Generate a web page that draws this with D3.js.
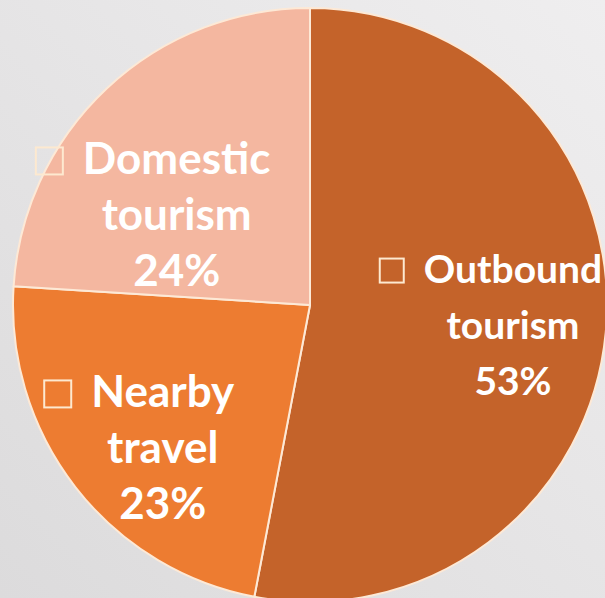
<!DOCTYPE html>
<html>
<head>
<meta charset="utf-8">
<script src="https://cdn.jsdelivr.net/npm/d3@7"></script>
<style>
  html, body { margin: 0; padding: 0; overflow: hidden; }
  svg { display: block; }
</style>
</head>
<body>
<svg id="chart" width="605" height="598"></svg>
<script>
// Share of travel by type
const categories = ["Outbound tourism", "Nearby travel", "Domestic tourism"];
const firstLines = ["Outbound", "Nearby", "Domestic"];
const secondLines = ["tourism", "travel", "tourism"];
const shares = [53, 23, 24];
const colors = ["#c4632a", "#ed7c31", "#f4b7a0"];

const W = 605, H = 598;
const cx = 310, cy = 305, R = 297;

// label placement: nudge from the slice centroid (px) and type size
const labelNudge = [[-4, 14], [17, 31], [9, 77]];
const labelSize = [39, 44, 44];

const svg = d3.select("#chart");

// soft grey backdrop
const defs = svg.append("defs");
const grad = defs.append("linearGradient")
  .attr("id", "bg").attr("x1", "0").attr("y1", "1").attr("x2", "1").attr("y2", "0");
grad.append("stop").attr("offset", "0").attr("stop-color", "#dcdbdc");
grad.append("stop").attr("offset", "1").attr("stop-color", "#efeeef");
svg.append("rect").attr("width", W).attr("height", H).attr("fill", "url(#bg)");

const data = categories.map((c, i) => ({ name: c, value: shares[i], i }));

const pie = d3.pie().value(d => d.value).sort(null);
const arc = d3.arc().innerRadius(0).outerRadius(R);
const labelArc = d3.arc().innerRadius(R * 0.7).outerRadius(R * 0.7);

const g = svg.append("g").attr("transform", `translate(${cx},${cy})`);
const arcs = pie(data);

g.selectAll("path.slice")
  .data(arcs)
  .join("path")
  .attr("class", "slice")
  .attr("d", arc)
  .attr("fill", d => colors[d.data.i])
  .attr("stroke", "#fde9d6")
  .attr("stroke-width", 2)
  .attr("stroke-linejoin", "round");

const lineGap = 56, boxGap = 20;

const labels = g.selectAll("g.label")
  .data(arcs)
  .join("g")
  .attr("class", "label")
  .attr("transform", d => {
    const [x, y] = labelArc.centroid(d);
    const n = labelNudge[d.data.i];
    return `translate(${x + n[0]},${y + n[1]})`;
  });

labels.each(function (d) {
  const sel = d3.select(this);
  const i = d.data.i;
  const fs = labelSize[i];
  const boxSize = Math.round(fs * 0.62);
  const lines = [firstLines[i], secondLines[i], d.data.value + "%"];
  const t = sel.append("text")
    .attr("text-anchor", "middle")
    .attr("font-family", "Lato, 'Open Sans', sans-serif")
    .attr("font-weight", 700)
    .attr("font-size", fs)
    .attr("fill", "#ffffff");
  lines.forEach((l, k) => {
    t.append("tspan").attr("x", 0).attr("y", (k - 1) * lineGap).text(l);
  });
  // legend key box before the first line
  const first = t.select("tspan").node();
  const w = first.getComputedTextLength();
  sel.append("rect")
    .attr("x", -w / 2 - boxGap - boxSize)
    .attr("y", -lineGap - boxSize)
    .attr("width", boxSize)
    .attr("height", boxSize)
    .attr("fill", "none")
    .attr("stroke", "#fde9d0")
    .attr("stroke-width", 2);
});
</script>
</body>
</html>
